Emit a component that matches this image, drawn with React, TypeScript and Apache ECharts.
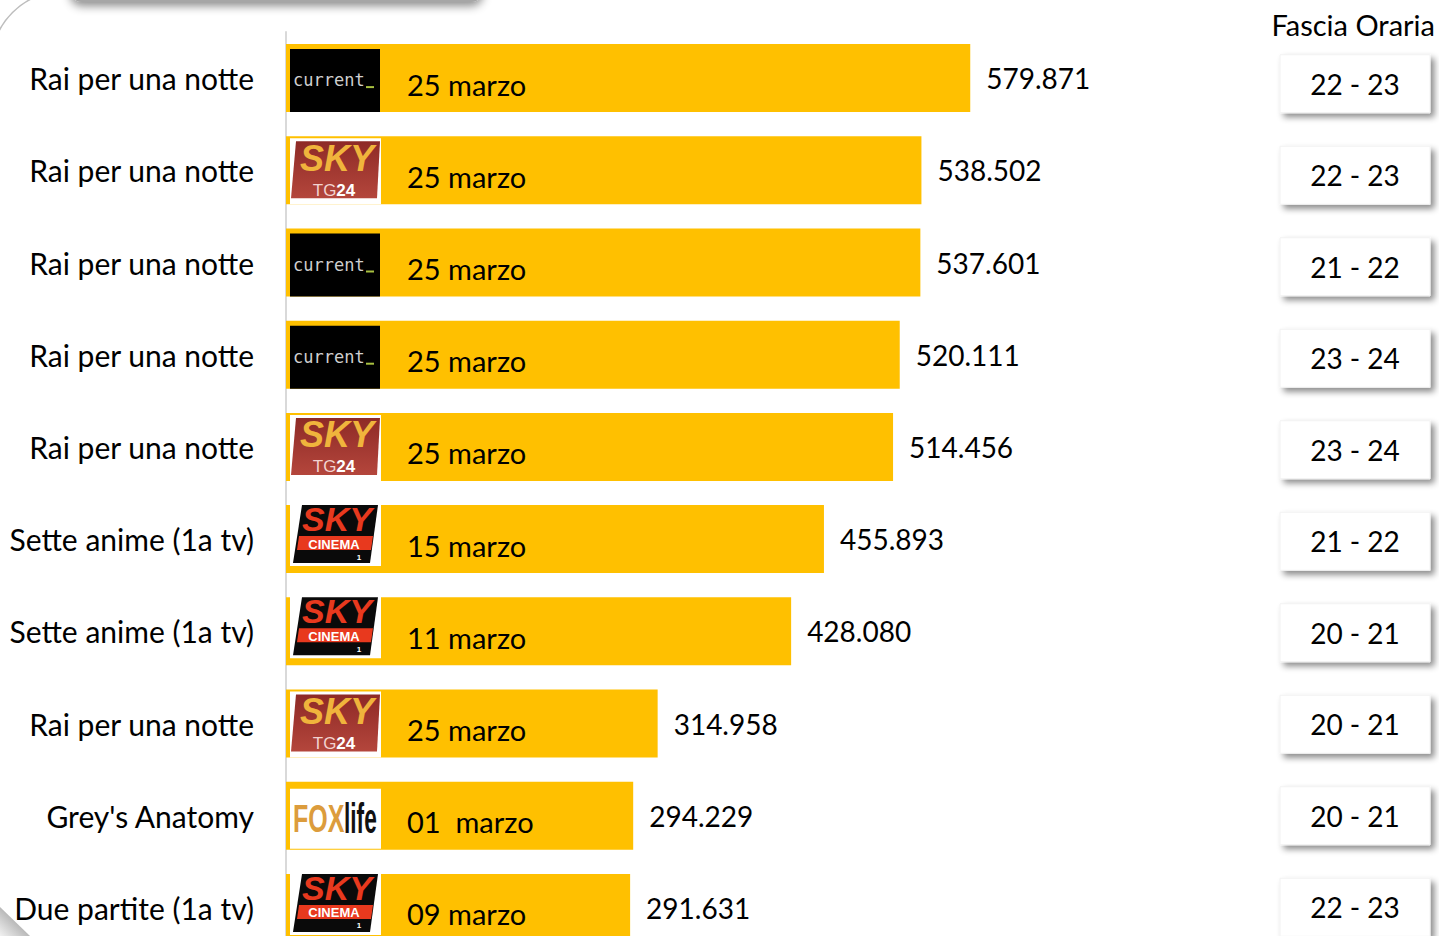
import React, { useEffect, useRef } from 'react';
import * as echarts from 'echarts';

const programs = [
  'Rai per una notte',
  'Rai per una notte',
  'Rai per una notte',
  'Rai per una notte',
  'Rai per una notte',
  'Sette anime (1a tv)',
  'Sette anime (1a tv)',
  'Rai per una notte',
  "Grey's Anatomy",
  'Due partite (1a tv)',
];
const channels = ['current', 'skytg24', 'current', 'current', 'skytg24', 'skycinema1', 'skycinema1', 'skytg24', 'foxlife', 'skycinema1'];
const airDates = ['25 marzo', '25 marzo', '25 marzo', '25 marzo', '25 marzo', '15 marzo', '11 marzo', '25 marzo', '01  marzo', '09 marzo'];
const viewers = [579871, 538502, 537601, 520111, 514456, 455893, 428080, 314958, 294229, 291631];
const timeSlots = ['22 - 23', '22 - 23', '21 - 22', '23 - 24', '23 - 24', '21 - 22', '20 - 21', '20 - 21', '20 - 21', '22 - 23'];
const slotHeader = 'Fascia Oraria';

const FONT = 'Lato';
const LOGO_FONT = 'Liberation Sans';

function fmt(v: number): string {
  const k = Math.floor(v / 1000);
  const r = v % 1000;
  return k + '.' + String(r).padStart(3, '0');
}

function logoChildren(ch: string): any[] {
  if (ch === 'current') {
    return [
      { type: 'rect', shape: { x: 4, y: -29, width: 90, height: 63 }, style: { fill: '#000' } },
      {
        type: 'text', x: 7, y: 2,
        style: { text: 'current', fill: '#cfcfcf', fontSize: 17, fontFamily: 'DejaVu Sans Mono', align: 'left', verticalAlign: 'middle' },
      },
      { type: 'rect', shape: { x: 80, y: 8, width: 8, height: 2 }, style: { fill: '#a8c040' } },
    ];
  }
  if (ch === 'skytg24') {
    return [
      { type: 'rect', shape: { x: 4, y: -32, width: 91, height: 66 }, style: { fill: '#fff' } },
      {
        type: 'polygon',
        shape: { points: [[10, -29], [94, -29], [91, 28], [5, 28]] },
        style: {
          fill: new echarts.graphic.LinearGradient(0, 0, 0, 1, [
            { offset: 0, color: '#8e2a26' },
            { offset: 1, color: '#b4463c' },
          ]),
        },
      },
      {
        type: 'text', x: 51, y: -12,
        style: { text: 'SKY', fill: '#f0b43c', fontSize: 36, fontWeight: 'bold', fontStyle: 'italic', fontFamily: LOGO_FONT, align: 'center', verticalAlign: 'middle' },
      },
      {
        type: 'text', x: 48, y: 20,
        style: {
          text: '{t|TG}{b|24}',
          align: 'center',
          verticalAlign: 'middle',
          rich: {
            t: { fill: '#f2d2d0', fontSize: 17, fontFamily: LOGO_FONT },
            b: { fill: '#ffffff', fontSize: 17, fontWeight: 'bold', fontFamily: LOGO_FONT },
          },
        },
      },
    ];
  }
  if (ch === 'skycinema1') {
    return [
      { type: 'rect', shape: { x: 4, y: -36, width: 91, height: 63 }, style: { fill: '#fff' } },
      { type: 'polygon', shape: { points: [[16, -34], [92, -34], [84, 24], [7, 24]] }, style: { fill: '#0a0a0a' } },
      {
        type: 'text', x: 51, y: -20,
        style: { text: 'SKY', fill: '#e8391e', fontSize: 34, fontWeight: 'bold', fontStyle: 'italic', fontFamily: LOGO_FONT, align: 'center', verticalAlign: 'middle' },
      },
      { type: 'polygon', shape: { points: [[13, -3], [87, -3], [85, 11], [11, 11]] }, style: { fill: '#e8391e' } },
      {
        type: 'text', x: 48, y: 5,
        style: { text: 'CINEMA', fill: '#ffffff', fontSize: 13, fontWeight: 'bold', fontFamily: LOGO_FONT, align: 'center', verticalAlign: 'middle' },
      },
      {
        type: 'text', x: 73, y: 18,
        style: { text: '1', fill: '#ffffff', fontSize: 8, fontWeight: 'bold', fontFamily: LOGO_FONT, align: 'center', verticalAlign: 'middle' },
      },
    ];
  }
  // foxlife
  return [
    { type: 'rect', shape: { x: 4, y: -27, width: 91, height: 60 }, style: { fill: '#fff' } },
    {
      type: 'text', x: 7, y: 3, scaleX: 0.64,
      style: { text: 'FOX', fill: '#dc9c3c', fontSize: 39, fontWeight: 'bold', fontFamily: LOGO_FONT, align: 'left', verticalAlign: 'middle' },
    },
    {
      type: 'text', x: 58, y: 2, scaleX: 0.54,
      style: { text: 'life', fill: '#111111', fontSize: 42, fontWeight: 'bold', fontFamily: LOGO_FONT, align: 'left', verticalAlign: 'middle' },
    },
  ];
}

export default function App() {
  const ref = useRef<HTMLDivElement>(null);

  useEffect(() => {
    if (!ref.current) return;
    const chart = echarts.init(ref.current, null, { renderer: 'svg' });

    const option: any = {
      animation: false,
      backgroundColor: '#ffffff',
      textStyle: { fontFamily: FONT },
      grid: [
        { left: 286, top: 32, width: 708, height: 922, containLabel: false },
        { left: 1280, top: 38, width: 150, height: 915, containLabel: false },
      ],
      xAxis: [
        { type: 'value', gridIndex: 0, min: 0, max: 600000, show: false },
        { type: 'value', gridIndex: 1, min: 0, max: 1, show: false },
      ],
      yAxis: [
        {
          type: 'category',
          gridIndex: 0,
          inverse: true,
          data: programs,
          axisLine: { show: true, lineStyle: { color: '#d9d9d9', width: 2 } },
          axisTick: { show: false },
          axisLabel: { color: '#000', fontSize: 30, fontFamily: FONT, margin: 32, padding: [0, 0, 4, 0] },
        },
        {
          type: 'category',
          gridIndex: 1,
          inverse: true,
          data: timeSlots,
          show: false,
        },
      ],
      graphic: [
        {
          type: 'rect',
          shape: { x: 70, y: -40, width: 413, height: 42, r: 12 },
          style: { fill: '#a6a6a6', shadowBlur: 10, shadowOffsetY: 4, shadowColor: 'rgba(0,0,0,0.45)' },
          z: 0,
        },
        {
          type: 'arc',
          shape: { cx: 62, cy: 62, r: 70, startAngle: Math.PI, endAngle: Math.PI * 1.5, clockwise: true },
          style: { stroke: '#bdbdbd', lineWidth: 1.5, fill: 'none' },
        },
        {
          type: 'polygon',
          shape: { points: [[0, 907], [30, 936], [0, 936]] },
          style: {
            fill: new echarts.graphic.LinearGradient(0.5, 0.5, 0, 1, [
              { offset: 0, color: '#b9b9b9' },
              { offset: 1, color: '#f2f2f2' },
            ]),
          },
        },
        {
          type: 'text',
          x: 1435,
          y: 24,
          style: { text: slotHeader, fill: '#000', fontSize: 29, fontFamily: FONT, align: 'right', verticalAlign: 'middle' },
        },
      ],
      series: [
        {
          type: 'bar',
          xAxisIndex: 0,
          yAxisIndex: 0,
          data: viewers,
          barWidth: 68,
          itemStyle: { color: '#FFC000' },
          label: {
            show: true,
            position: 'right',
            distance: 16,
            color: '#000',
            fontSize: 28,
            fontFamily: FONT,
            formatter: (p: any) => fmt(p.value),
          },
          z: 2,
        },
        {
          type: 'custom',
          xAxisIndex: 0,
          yAxisIndex: 0,
          clip: false,
          z: 3,
          data: viewers.map((_, i) => [0, i]),
          renderItem: (params: any, api: any) => {
            const idx = api.value(1);
            const pt = api.coord([0, idx]);
            return {
              type: 'group',
              x: pt[0],
              y: pt[1],
              children: [
                ...logoChildren(channels[idx]),
                {
                  type: 'text',
                  x: 121,
                  y: 6,
                  style: { text: airDates[idx], fill: '#000', fontSize: 29, fontFamily: FONT, align: 'left', verticalAlign: 'middle' },
                },
              ],
            };
          },
        },
        {
          type: 'custom',
          xAxisIndex: 1,
          yAxisIndex: 1,
          clip: false,
          z: 3,
          data: timeSlots.map((_, i) => [0, i]),
          renderItem: (params: any, api: any) => {
            const idx = api.value(1);
            const pt = api.coord([0, idx]);
            return {
              type: 'group',
              x: pt[0],
              y: pt[1],
              children: [
                {
                  type: 'rect',
                  shape: { x: 0, y: -29, width: 150, height: 58 },
                  style: {
                    fill: '#ffffff',
                    stroke: '#f2f2f2',
                    lineWidth: 1,
                    shadowBlur: 6,
                    shadowOffsetX: 4,
                    shadowOffsetY: 4,
                    shadowColor: 'rgba(0,0,0,0.45)',
                  },
                },
                {
                  type: 'text',
                  x: 75,
                  y: 0,
                  style: { text: timeSlots[idx], fill: '#000', fontSize: 28, fontFamily: FONT, align: 'center', verticalAlign: 'middle' },
                },
              ],
            };
          },
        },
      ],
    };

    chart.setOption(option);
    return () => {
      chart.dispose();
    };
  }, []);

  return (
    <div
      ref={ref}
      style={{ position: 'fixed', left: 0, top: 0, width: 1439, height: 960, background: '#fff' }}
    />
  );
}
